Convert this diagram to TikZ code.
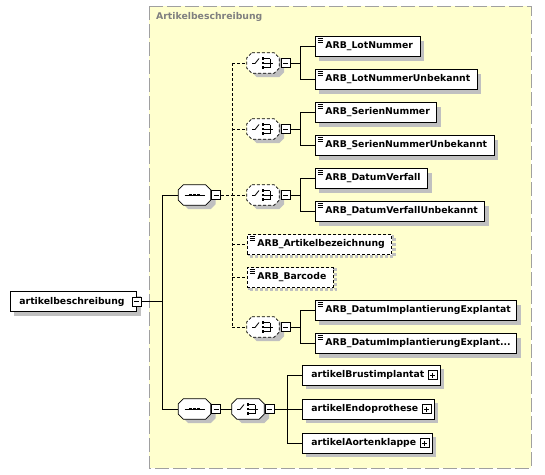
\documentclass[tikz,border=0pt]{standalone}
\usepackage{fontspec}
\setmainfont{DejaVu Sans}
\usetikzlibrary{shadows,calc}
\definecolor{grpfill}{RGB}{255,255,206}
\definecolor{grpedge}{RGB}{160,160,160}
\definecolor{grptext}{RGB}{128,128,128}
\definecolor{shd}{RGB}{192,192,192}
\tikzset{
  base/.style={font=\fontsize{9.3}{11}\selectfont\bfseries},
  elem/.style={base, draw=black, fill=white, line width=0.8pt, minimum height=20pt,
    inner ysep=0pt, inner xsep=0pt, anchor=west,
    drop shadow={shadow xshift=4pt, shadow yshift=-4pt, fill=shd, draw=none, opacity=1}},
  optelem/.style={base, draw=black, fill=white, line width=0.8pt, minimum height=20pt,
    inner ysep=0pt, inner xsep=0pt, anchor=west, dash pattern=on 3pt off 2pt,
    drop shadow={shadow xshift=2.2pt, shadow yshift=-2.2pt, fill=none, draw=shd,
      line width=3.5pt, opacity=1}},
  comp/.style={draw=none, minimum width=32pt, minimum height=20pt, inner sep=0pt},
  octline/.style={draw=black, fill=white, line width=0.8pt},
  octdash/.style={octline, dash pattern=on 3pt off 2pt},
  octshadow/.style={fill=shd, draw=none},
  minusbox/.style={draw=black, fill=white, line width=0.7pt, minimum size=9pt, inner sep=0pt,
    path picture={\draw[line width=0.7pt] ([xshift=2pt]path picture bounding box.west) -- ([xshift=-2pt]path picture bounding box.east);}},
  plusbox/.style={minusbox,
    path picture={\draw[line width=0.7pt] ([xshift=2pt]path picture bounding box.west) -- ([xshift=-2pt]path picture bounding box.east);
      \draw[line width=0.7pt] ([yshift=-2pt]path picture bounding box.north) -- ([yshift=2pt]path picture bounding box.south);}},
  conn/.style={line width=0.8pt},
  dconn/.style={conn, dash pattern=on 3pt off 2pt},
  grp/.style={draw=grpedge, fill=grpfill, line width=1pt, dash pattern=on 14pt off 4pt},
  grplabel/.style={base, text=grptext, anchor=west, inner sep=0pt}
}
\newcommand\octpath[2]{%
  ($(#1.north west)+#2+(5,0)$) -- ($(#1.north east)+#2+(-5,0)$) -- ($(#1.north east)+#2+(0,5)$) --
  ($(#1.south east)+#2+(0,-5)$) -- ($(#1.south east)+#2+(-5,0)$) -- ($(#1.south west)+#2+(5,0)$) --
  ($(#1.south west)+#2+(0,-5)$) -- ($(#1.north west)+#2+(0,5)$) -- cycle}
\newcommand\octo[2]{%
  \path[octshadow] \octpath{#1}{(5,4)};
  \path[#2] \octpath{#1}{(0,0)};}
\newcommand\elicon[1]{\foreach \dy in {2.5,4.5,6.5} \draw[line width=0.7pt] ($(#1.north west)+(2.5,\dy)$) -- ++(5,0);}
\newcommand\seqicon[1]{%
  \draw[line width=0.8pt] ($(#1)+(-10,0)$) -- ($(#1)+(10,0)$);
  \foreach \dx in {-4,0,4} \fill ($(#1)+(\dx-1.4,-1.4)$) rectangle ++(2.8,2.8);}
\newcommand\choiceicon[1]{%
  \draw[line width=0.8pt] ($(#1)+(-11,0.5)$) -- ($(#1)+(-8,0.5)$) -- ($(#1)+(-4,-4.5)$);
  \foreach \dy in {-4.5,0,4.5} {\fill ($(#1)+(-1.3,\dy-1.2)$) rectangle ++(2.6,2.4);
    \draw[line width=0.7pt] ($(#1)+(1.3,\dy)$) -- ($(#1)+(7,\dy)$);}
  \draw[line width=0.8pt] ($(#1)+(7,-4.5)$) -- ($(#1)+(7,4.5)$);
  \draw[line width=0.8pt] ($(#1)+(7,0)$) -- ($(#1)+(10,0)$);}
\begin{document}
\begin{tikzpicture}[x=1pt,y=-1pt]
\useasboundingbox (0,0) rectangle (545,474);
% group
\draw[grp] (149,6) rectangle (531,468);
\node[grplabel] (glabel) at (156,17) {Artikelbeschreibung};
% root
\node[elem] (root) at (10,301.5) {\kern9pt artikelbeschreibung\kern12pt};
\node[minusbox] (rootm) at (root.east) {};
\coordinate (bus0) at (162,0);
% sequences
\node[comp] (seq1) at (194.5,195) {};
\node[comp] (seq2) at (194.5,409) {};
\octo{seq1}{octline}
\octo{seq2}{octline}
\node[minusbox] (seq1m) at (216,195) {};
\node[minusbox] (seq2m) at (216,409) {};
\seqicon{seq1}
\seqicon{seq2}
\coordinate (bus1) at (232,0);
% choices
\node[comp] (ch1) at (263,63) {};
\node[comp] (ch2) at (263,129) {};
\node[comp] (ch3) at (263,195) {};
\node[comp] (ch4) at (263,327) {};
\node[comp] (ch5) at (248,409) {};
\foreach \c in {ch1,ch2,ch3,ch4} {\octo{\c}{octdash}}
\octo{ch5}{octline}
\node[minusbox] (ch1m) at (285.5,63) {};
\node[minusbox] (ch2m) at (285.5,129) {};
\node[minusbox] (ch3m) at (285.5,195) {};
\node[minusbox] (ch4m) at (285.5,327) {};
\node[minusbox] (ch5m) at (269.5,409) {};
\foreach \c in {ch1,ch2,ch3,ch4,ch5} {\choiceicon{\c}}
\coordinate (bus2) at (300,0);
\coordinate (bus3) at (287,0);
% elements
\node[elem] (e1) at (315,46.5) {\kern10pt ARB\_LotNummer\kern7pt};
\node[elem] (e2) at (315,79.5) {\kern10pt ARB\_LotNummerUnbekannt\kern7pt};
\node[elem] (e3) at (315,112.5) {\kern10pt ARB\_SerienNummer\kern7pt};
\node[elem] (e4) at (315,145.5) {\kern10pt ARB\_SerienNummerUnbekannt\kern7pt};
\node[elem] (e5) at (315,178.5) {\kern10pt ARB\_DatumVerfall\kern7pt};
\node[elem] (e6) at (315,211.5) {\kern10pt ARB\_DatumVerfallUnbekannt\kern7pt};
\node[optelem] (o1) at (247,244.5) {\kern10pt ARB\_Artikelbezeichnung\kern7pt};
\node[optelem] (o2) at (247,277.5) {\kern10pt ARB\_Barcode\kern7pt};
\node[elem] (e9) at (315,310.5) {\kern10pt ARB\_DatumImplantierungExplantat\kern6pt};
\node[elem] (e10) at (315,343.5) {\kern10pt ARB\_DatumImplantierungExplant...\kern6pt};
\foreach \e in {e1,e2,e3,e4,e5,e6,o1,o2,e9,e10} {\elicon{\e}}
\node[elem] (b1) at (302,375) {\kern9pt artikelBrustimplantat\kern16pt};
\node[elem] (b2) at (302,409) {\kern9pt artikelEndoprothese\kern16pt};
\node[elem] (b3) at (302,443) {\kern9pt artikelAortenklappe\kern16pt};
\node[plusbox] (b1p) at ($(b1.east)+(-8,0)$) {};
\node[plusbox] (b2p) at ($(b2.east)+(-8,0)$) {};
\node[plusbox] (b3p) at ($(b3.east)+(-8,0)$) {};
% connectors: root
\draw[conn] (rootm.east) -- (rootm.east -| bus0);
\draw[conn] (seq1.west -| bus0) -- (seq2.west -| bus0);
\draw[conn] (seq1.west -| bus0) -- (seq1.west);
\draw[conn] (seq2.west -| bus0) -- (seq2.west);
% sequence 1
\draw[dconn] (seq1m.east) -- (seq1m.east -| bus1);
\draw[dconn] (ch1.west -| bus1) -- (ch4.west -| bus1);
\foreach \n in {ch1,ch2,ch3,o1,o2,ch4} {\draw[dconn] (\n.west -| bus1) -- (\n.west);}
% choices
\foreach \c/\a/\b in {ch1m/e1/e2,ch2m/e3/e4,ch3m/e5/e6,ch4m/e9/e10} {
  \draw[conn] (\c.east) -- (\c.east -| bus2);
  \draw[conn] (\a.west -| bus2) -- (\b.west -| bus2);
  \draw[conn] (\a.west -| bus2) -- (\a.west);
  \draw[conn] (\b.west -| bus2) -- (\b.west);
}
% sequence 2
\draw[conn] (seq2m.east) -- (ch5.west);
\draw[conn] (ch5m.east) -- (ch5m.east -| bus3);
\draw[conn] (b1.west -| bus3) -- (b3.west -| bus3);
\foreach \n in {b1,b2,b3} {\draw[conn] (\n.west -| bus3) -- (\n.west);}
\end{tikzpicture}
\end{document}
